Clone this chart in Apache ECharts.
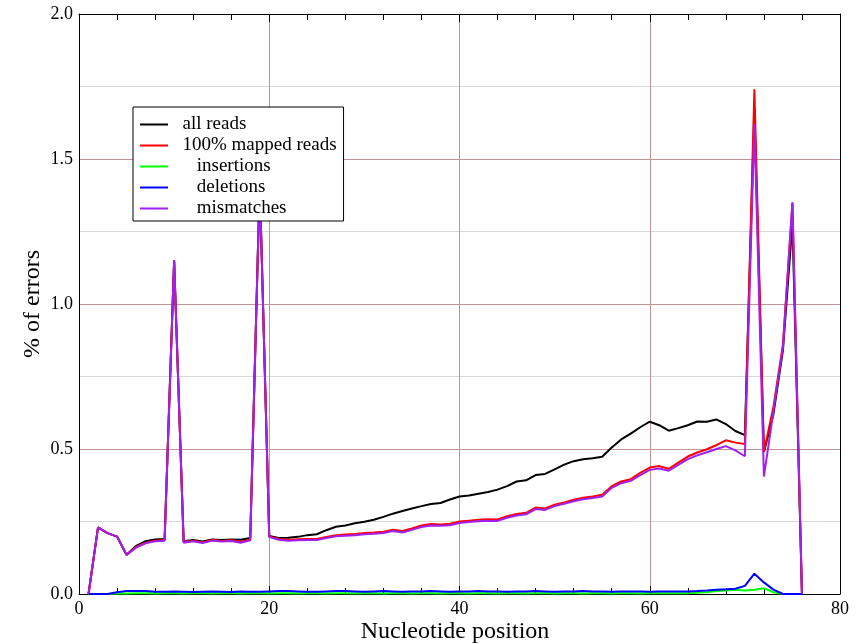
<!DOCTYPE html>
<html>
<head>
<meta charset="utf-8">
<script src="https://cdn.jsdelivr.net/npm/echarts@6/dist/echarts.min.js"></script>
<style>html,body{margin:0;padding:0;background:#fff}#c{width:858px;height:644px}</style>
</head>
<body>
<div id="c"></div>
<script>
const positions = [1,2,3,4,5,6,7,8,9,10,11,12,13,14,15,16,17,18,19,20,21,22,23,24,25,26,27,28,29,30,31,32,33,34,35,36,37,38,39,40,41,42,43,44,45,46,47,48,49,50,51,52,53,54,55,56,57,58,59,60,61,62,63,64,65,66,67,68,69,70,71,72,73,74,75,76];
const allReads = [0,0.23,0.21,0.198,0.135,0.166,0.182,0.188,0.19,1.15,0.182,0.186,0.181,0.188,0.186,0.188,0.187,0.193,1.42,0.2,0.193,0.194,0.197,0.203,0.206,0.22,0.232,0.236,0.244,0.249,0.256,0.266,0.277,0.286,0.295,0.303,0.31,0.314,0.326,0.336,0.34,0.346,0.352,0.36,0.372,0.388,0.392,0.41,0.414,0.43,0.446,0.458,0.465,0.468,0.473,0.505,0.533,0.553,0.575,0.594,0.582,0.563,0.572,0.582,0.595,0.594,0.602,0.586,0.562,0.548,1.67,0.49,0.62,0.84,1.28,0];
const mappedReads = [0,0.23,0.21,0.198,0.135,0.162,0.177,0.184,0.186,1.15,0.179,0.184,0.178,0.186,0.183,0.185,0.18,0.187,1.42,0.198,0.19,0.187,0.189,0.19,0.19,0.197,0.203,0.205,0.207,0.21,0.212,0.215,0.222,0.217,0.226,0.236,0.241,0.24,0.242,0.25,0.253,0.256,0.258,0.257,0.268,0.276,0.28,0.298,0.295,0.308,0.316,0.325,0.332,0.336,0.342,0.372,0.388,0.396,0.418,0.436,0.441,0.432,0.453,0.474,0.488,0.499,0.513,0.53,0.522,0.517,1.74,0.49,0.645,0.86,1.35,0];
const insertions = [0,0,0,0.002,0.002,0.003,0.003,0.002,0.003,0.003,0.002,0.003,0.003,0.002,0.003,0.003,0.002,0.003,0.003,0.002,0.003,0.003,0.002,0.003,0.003,0.002,0.003,0.003,0.002,0.003,0.003,0.002,0.003,0.003,0.002,0.003,0.003,0.002,0.003,0.003,0.002,0.003,0.003,0.002,0.003,0.003,0.002,0.003,0.003,0.002,0.003,0.003,0.002,0.003,0.003,0.002,0.003,0.003,0.002,0.003,0.003,0.003,0.003,0.003,0.004,0.006,0.01,0.012,0.015,0.012,0.015,0.02,0.006,0,0,0];
const deletions = [0,0,0,0.006,0.01,0.01,0.01,0.008,0.008,0.009,0.008,0.007,0.008,0.009,0.008,0.007,0.009,0.008,0.008,0.009,0.01,0.01,0.009,0.008,0.008,0.009,0.01,0.01,0.009,0.008,0.009,0.01,0.009,0.008,0.009,0.009,0.01,0.009,0.008,0.009,0.009,0.01,0.009,0.009,0.008,0.009,0.009,0.01,0.009,0.008,0.009,0.009,0.01,0.009,0.009,0.008,0.009,0.009,0.009,0.008,0.009,0.009,0.009,0.009,0.01,0.012,0.015,0.016,0.018,0.028,0.07,0.04,0.015,0,0,0];
const mismatches = [0,0.23,0.21,0.198,0.135,0.16,0.175,0.182,0.184,1.15,0.177,0.182,0.176,0.184,0.181,0.183,0.177,0.185,1.42,0.196,0.187,0.184,0.185,0.186,0.186,0.193,0.199,0.201,0.203,0.206,0.208,0.21,0.217,0.212,0.221,0.231,0.236,0.235,0.237,0.245,0.248,0.251,0.253,0.252,0.263,0.271,0.275,0.293,0.29,0.303,0.311,0.32,0.327,0.331,0.336,0.366,0.382,0.39,0.41,0.428,0.433,0.425,0.445,0.465,0.478,0.489,0.5,0.51,0.495,0.475,1.62,0.405,0.63,0.85,1.35,0];

const seriesNames = ['all reads', '100% mapped reads', 'insertions', 'deletions', 'mismatches'];
const seriesValues = [allReads, mappedReads, insertions, deletions, mismatches];
const seriesColors = ['#000000', '#ff0000', '#00ff00', '#0000ff', '#a020f0'];
const legendIndent = {'all reads': '  ', '100% mapped reads': '  ', 'insertions': '     ', 'deletions': '     ', 'mismatches': '     '};

const serif = 'Liberation Serif';
const brown = '#c49494';

const chart = echarts.init(document.getElementById('c'), null, {renderer: 'canvas'});
const option = {
  animation: false,
  backgroundColor: '#fff',
  grid: {left: 79, right: 18, top: 14, bottom: 50, containLabel: false, outerBoundsMode: 'none'},
  legend: {
    orient: 'vertical',
    left: 133, top: 107,
    z: 20,
    itemWidth: 28, itemHeight: 14, itemGap: 2,
    padding: [8, 7, 3, 6],
    backgroundColor: '#fff',
    borderColor: '#000', borderWidth: 1,
    itemStyle: {opacity: 0},
    lineStyle: {width: 2},
    textStyle: {fontFamily: serif, fontSize: 19, color: '#000'},
    formatter: n => legendIndent[n] + n,
    data: seriesNames
  },
  xAxis: [{
    type: 'value', min: 0, max: 80, interval: 20, position: 'bottom',
    name: 'Nucleotide position', nameLocation: 'middle', nameGap: 26, nameMoveOverlap: false,
    nameTextStyle: {fontFamily: serif, fontSize: 24, color: '#000', padding: [0, 9, 0, 0]},
    axisLine: {show: true, onZero: false, lineStyle: {color: '#000', width: 1}},
    axisTick: {show: true, inside: true, length: 8, lineStyle: {color: '#000'}},
    minorTick: {show: true, splitNumber: 5, length: 6, lineStyle: {color: '#000'}},
    axisLabel: {fontFamily: serif, fontSize: 18, color: '#000', margin: 6},
    splitLine: {show: true, lineStyle: {color: brown, width: 1}}
  }, {
    type: 'value', min: 0, max: 80, interval: 20, position: 'top',
    axisLine: {show: true, onZero: false, lineStyle: {color: '#000', width: 1}},
    axisTick: {show: true, inside: true, length: 8, lineStyle: {color: '#000'}},
    minorTick: {show: true, splitNumber: 5, length: 6, lineStyle: {color: '#000'}},
    axisLabel: {show: false}, splitLine: {show: false}
  }],
  yAxis: [{
    type: 'value', min: 0, max: 2, interval: 0.5, position: 'left',
    name: '% of errors', nameLocation: 'middle', nameGap: 34, nameRotate: 90, nameMoveOverlap: false,
    nameTextStyle: {fontFamily: serif, fontSize: 24, color: '#000'},
    axisLine: {show: true, onZero: false, lineStyle: {color: '#000', width: 1}},
    axisTick: {show: false},
    axisLabel: {fontFamily: serif, fontSize: 18, color: '#000', margin: 6, formatter: v => v.toFixed(1)},
    splitLine: {show: true, lineStyle: {color: brown, width: 1}},
    minorTick: {show: false, splitNumber: 2},
    minorSplitLine: {show: true, lineStyle: {color: '#d9d9d9', width: 1}}
  }, {
    type: 'value', min: 0, max: 2, interval: 0.5, position: 'right',
    axisLine: {show: true, onZero: false, lineStyle: {color: '#000', width: 1}},
    axisTick: {show: false}, axisLabel: {show: false}, splitLine: {show: false}
  }],
  series: seriesNames.map((n, i) => ({
    name: n, type: 'line', xAxisIndex: 0, yAxisIndex: 0,
    symbol: 'none', showSymbol: false,
    color: seriesColors[i],
    lineStyle: {color: seriesColors[i], width: 2},
    data: positions.map((p, j) => [p, seriesValues[i][j]]),
    z: 2 + i
  }))
};
chart.setOption(option);
</script>
</body>
</html>
